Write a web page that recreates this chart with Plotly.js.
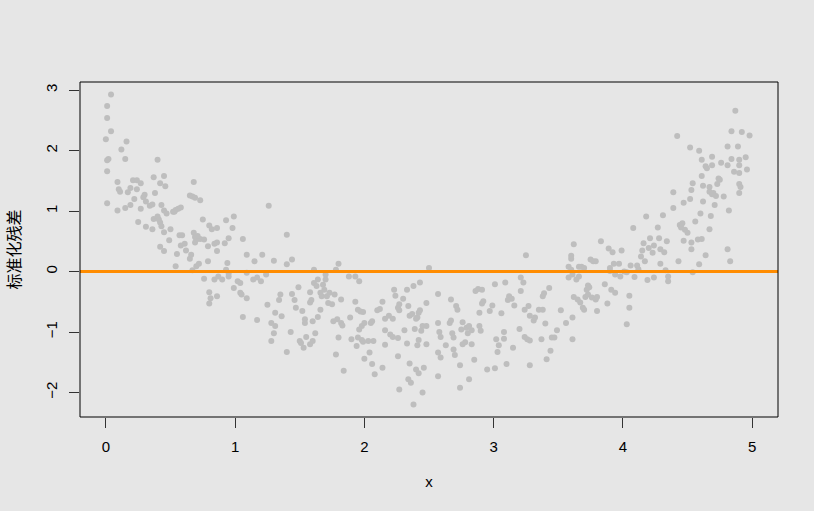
<!DOCTYPE html>
<html>
<head>
<meta charset="utf-8">
<script src="https://cdn.plot.ly/plotly-3.0.1.min.js"></script>
<style>
  html, body { margin: 0; padding: 0; background: #e6e6e6; }
  #chart { width: 814px; height: 511px; }
</style>
</head>
<body>
<div id="chart"></div>
<script>
// Predictor values, grouped in bands of x
const xVals = [
  // 0 - 0.5
  0.04,0.01,0.01,0.04,0.00,0.02,0.01,0.01,0.01,0.12,0.16,0.15,0.09,0.10,0.11,0.09,0.15,0.17,0.19,0.21,
  0.24,0.24,0.22,0.19,0.27,0.25,0.27,0.30,0.31,0.34,0.31,0.37,0.40,0.38,0.37,0.40,0.36,0.43,0.45,0.46,
  0.43,0.45,0.47,0.42,0.45,0.42,0.45,0.49,0.29,0.36,0.41,0.50,0.42,
  // 0.5 - 1.0
  0.52,0.54,0.56,0.58,0.53,0.57,0.59,0.58,0.61,0.55,0.54,0.62,0.65,0.66,0.65,0.67,0.68,0.69,0.73,0.68,
  0.69,0.70,0.73,0.71,0.76,0.69,0.75,0.67,0.70,0.72,0.76,0.80,0.82,0.86,0.79,0.79,0.84,0.86,0.86,0.80,
  0.81,0.80,0.86,0.84,0.87,0.90,0.93,0.99,0.98,0.95,0.92,0.94,0.93,0.95,0.95,0.99,
  // 1.0 - 1.5
  1.02,1.04,1.04,1.05,1.06,1.09,1.09,1.09,1.06,1.15,1.14,1.17,1.20,1.21,1.24,1.26,1.17,1.25,1.30,1.31,
  1.28,1.31,1.30,1.28,1.35,1.34,1.36,1.40,1.40,1.44,1.40,1.43,1.46,1.47,1.49,1.50,1.44,
  // 1.5 - 2.0
  1.51,1.53,1.55,1.58,1.60,1.62,1.54,1.54,1.60,1.64,1.52,1.58,1.59,1.58,1.61,1.63,1.64,1.61,1.66,1.67,
  1.69,1.68,1.70,1.70,1.71,1.72,1.75,1.73,1.66,1.76,1.79,1.82,1.83,1.78,1.80,1.84,1.77,1.82,1.78,1.80,
  1.88,1.89,1.90,1.93,1.96,1.93,1.95,1.97,1.99,1.95,1.94,1.98,1.99,1.98,1.96,2.00,
  // 2.0 - 2.5
  2.00,2.03,2.04,2.06,2.08,2.05,2.06,2.07,2.10,2.12,2.14,2.16,2.14,2.16,2.16,2.19,2.20,2.22,2.23,2.24,
  2.26,2.27,2.27,2.26,2.27,2.30,2.31,2.33,2.34,2.35,2.35,2.34,2.36,2.38,2.37,2.38,2.39,2.41,2.42,2.43,
  2.40,2.42,2.41,2.43,2.44,2.45,2.45,2.46,2.48,2.48,2.48,2.50,2.22,2.40,2.33,2.42,2.26,
  // 2.5 - 3.0
  2.57,2.58,2.59,2.57,2.59,2.57,2.57,2.63,2.66,2.67,2.67,2.68,2.69,2.69,2.70,2.71,2.72,2.74,2.74,2.75,
  2.76,2.76,2.78,2.79,2.81,2.80,2.83,2.81,2.83,2.86,2.88,2.91,2.85,2.89,2.90,2.91,2.92,2.89,2.95,2.97,
  2.99,3.01,
  // 3.0 - 3.5
  3.01,3.02,3.03,3.04,3.06,3.08,3.08,3.09,3.10,3.12,3.14,3.11,3.15,3.16,3.20,3.21,3.23,3.21,3.24,3.24,
  3.26,3.25,3.27,3.28,3.28,3.28,3.31,3.32,3.35,3.38,3.37,3.38,3.39,3.40,3.41,3.43,3.44,3.45,3.47,3.49,
  3.52,
  // 3.5 - 4.0
  3.56,3.58,3.60,3.60,3.62,3.58,3.60,3.61,3.61,3.61,3.62,3.64,3.66,3.66,3.68,3.70,3.67,3.65,3.69,3.70,
  3.71,3.73,3.72,3.73,3.74,3.75,3.77,3.79,3.76,3.79,3.80,3.80,3.83,3.86,3.88,3.89,3.90,3.90,3.92,3.93,
  3.94,3.91,3.94,3.97,3.98,3.99,4.01,
  // 4.0 - 4.5
  4.03,4.03,4.05,4.05,4.06,4.08,4.09,4.11,4.12,4.14,4.15,4.16,4.17,4.18,4.19,4.20,4.21,4.23,4.24,4.24,
  4.27,4.28,4.29,4.29,4.31,4.32,4.33,4.34,4.35,4.35,4.39,4.39,4.42,4.43,4.44,4.45,4.46,4.47,4.48,4.50,
  4.47,
  // 4.5 - 5.0
  4.52,4.52,4.53,4.54,4.53,4.53,4.54,4.56,4.58,4.59,4.59,4.60,4.61,4.61,4.61,4.62,4.62,4.64,4.65,4.64,
  4.67,4.67,4.67,4.69,4.69,4.70,4.71,4.72,4.73,4.74,4.75,4.76,4.78,4.81,4.81,4.82,4.81,4.83,4.84,4.84,
  4.86,4.87,4.89,4.90,4.90,4.90,4.91,4.90,4.92,4.95,4.96,4.98,4.90,4.69,4.68
];

// Standardized residuals, same order as xVals
const stdResid = [
  // 0 - 0.5
  2.93,2.74,2.54,2.32,2.19,1.86,1.84,1.66,1.13,2.02,2.15,1.86,1.48,1.36,1.32,1.01,1.05,1.31,1.38,1.51,
  1.51,1.36,1.20,1.10,1.04,0.82,1.46,1.27,1.16,1.09,0.74,1.56,1.85,1.30,0.87,0.91,0.70,0.75,1.58,1.41,
  1.10,1.01,0.96,0.81,0.65,0.41,0.34,0.52,1.23,1.11,0.86,0.70,1.46,
  // 0.5 - 1.0
  0.99,1.02,1.04,1.06,0.99,0.60,0.60,0.43,0.46,0.29,0.09,0.35,0.21,0.28,1.26,1.24,1.48,1.22,1.18,0.64,
  0.57,0.53,0.54,0.59,0.53,0.48,0.86,0.02,0.09,0.13,-0.12,0.76,0.70,0.72,0.17,0.42,0.46,0.48,0.34,-0.34,
  -0.44,-0.53,-0.41,-0.13,-0.08,-0.13,0.85,0.91,0.72,0.55,0.47,0.14,0.03,-0.03,-0.08,-0.27,
  // 1.0 - 1.5
  -0.16,-0.19,-0.35,-0.38,0.54,0.28,-0.02,-0.44,-0.75,0.17,-0.13,-0.10,-0.16,0.28,-0.05,1.09,-0.80,-0.55,0.18,-0.68,
  -0.85,-0.90,-1.02,-1.15,-0.38,-0.47,-0.74,0.61,0.12,0.20,-1.33,-1.00,-0.47,-0.60,-0.26,-1.15,-0.37,
  // 1.5 - 2.0
  -1.18,-1.26,-1.08,-1.20,-1.15,-1.02,-0.79,-0.85,-0.82,-0.75,-0.65,-0.51,-0.47,-0.34,-0.19,-0.24,-0.13,0.03,-0.35,-0.41,
  -0.30,-0.22,-0.13,-0.05,-0.41,-0.52,-0.54,-0.35,-0.63,-0.82,-0.79,-0.85,-0.89,-1.37,-1.09,-1.64,-0.38,-0.46,0.03,0.13,
  -0.08,-0.76,-1.12,-0.08,-0.16,-0.50,-0.63,-0.66,-0.67,-1.09,-1.23,-1.13,-1.16,-0.90,-0.96,-1.44,
  // 2.0 - 2.5
  -0.85,-1.15,-1.34,-1.53,-1.70,-0.85,-0.82,-1.15,-0.64,-0.62,-0.50,-0.78,-1.59,-0.97,-1.21,-0.73,-1.04,-1.08,-0.30,-0.40,
  -0.60,-0.64,-0.54,-1.40,-1.95,-0.45,-0.97,-0.30,-0.57,-0.73,-1.52,-1.78,-1.84,-2.20,-0.70,-0.24,-0.95,-0.76,-0.68,-0.18,
  -1.62,-1.68,-1.22,-0.64,-0.98,-0.90,-2.00,-1.59,-1.20,-0.90,-0.52,0.06,-0.78,-0.78,-1.19,-1.13,-1.10,
  // 2.5 - 3.0
  -0.85,-1.00,-1.08,-1.34,-1.42,-1.73,-0.37,-1.22,-0.85,-0.81,-0.46,-1.02,-1.09,-1.29,-1.38,-0.57,-0.63,-1.55,-1.92,-0.96,
  -0.84,-1.20,-1.17,-0.93,-0.90,-1.02,-0.97,-1.78,-1.20,-0.32,-0.29,-0.30,-1.46,-0.90,-0.98,-0.53,-0.49,-0.68,-1.62,-0.65,
  -0.56,-0.21,
  // 3.0 - 3.5
  -1.60,-1.12,-1.33,-1.22,-0.69,-1.00,-1.11,-0.18,-1.53,-0.41,-0.45,-0.47,-1.26,-0.56,-0.95,-0.10,-0.18,-0.32,-0.63,-1.08,
  -1.12,0.27,-0.57,-0.73,-1.14,-1.55,-0.81,-0.76,-0.63,-0.63,-1.12,-0.41,-0.36,-0.86,-1.45,-0.27,-1.31,-1.09,-1.09,-0.97,
  -0.64,
  // 3.5 - 4.0
  -0.85,-0.10,0.21,0.26,0.45,0.08,0.03,-0.05,-0.76,-1.12,-0.42,-0.13,-0.08,0.08,0.08,0.06,-0.51,-0.46,-0.60,-0.63,
  -0.42,-0.38,-0.30,-0.23,-0.26,0.20,0.17,0.17,-0.43,-0.46,-0.42,-0.65,0.50,-0.21,-0.53,0.38,0.01,0.06,0.32,0.13,
  -0.05,-0.30,-0.35,0.13,-0.08,0.35,0.00,
  // 4.0 - 4.5
  -0.01,-0.87,-0.40,-0.60,0.10,0.72,-0.09,0.10,0.04,0.25,0.35,0.47,0.17,0.91,-0.14,0.39,0.55,0.31,0.43,-0.10,
  0.73,0.55,0.37,0.13,0.93,0.32,0.02,0.50,-0.08,-0.16,1.31,1.05,2.24,0.17,0.77,0.73,0.80,1.14,0.69,0.64,
  0.51,
  // 4.5 - 5.0
  2.05,1.20,1.35,1.46,0.48,0.37,-0.01,0.83,0.53,2.00,0.12,0.96,0.54,1.85,1.58,1.42,1.16,1.74,1.71,0.27,
  1.32,1.40,0.70,1.90,1.76,1.30,1.10,1.25,1.45,1.54,1.52,1.80,1.24,2.07,1.76,1.01,0.37,0.17,1.86,2.32,
  1.65,2.66,2.07,1.85,1.63,1.45,1.40,1.30,2.31,1.89,1.69,2.25,1.76,1.28,0.92
];

const xTicks = [0, 1, 2, 3, 4, 5];
const yTicks = [-2, -1, 0, 1, 2, 3];
const refLevel = 0;

const xName = 'x';
const yName = '标准化残差';

const tickFont = { family: 'Liberation Sans, Arial, sans-serif', size: 15, color: '#000' };

const trace = {
  type: 'scatter',
  mode: 'markers',
  x: xVals,
  y: stdResid,
  marker: { color: '#bebebe', size: 6, line: { width: 0 } },
  hoverinfo: 'x+y'
};

const layout = {
  width: 814,
  height: 511,
  paper_bgcolor: '#e6e6e6',
  plot_bgcolor: '#e6e6e6',
  margin: { l: 80, r: 36, t: 82, b: 94 },
  showlegend: false,
  xaxis: {
    range: [-0.2, 5.2],
    tickvals: xTicks,
    ticktext: xTicks.map(String),
    ticks: 'outside',
    ticklen: 10,
    tickwidth: 1,
    tickcolor: '#333',
    showgrid: false,
    zeroline: false,
    showline: false,
    tickfont: tickFont,
    ticklabelstandoff: 6,
    title: { text: xName, font: { family: 'Liberation Sans, Arial, sans-serif', size: 15, color: '#000' }, standoff: 22 }
  },
  yaxis: {
    range: [-2.405, 3.135],
    tickvals: yTicks,
    ticktext: yTicks.map(v => v < 0 ? '\u2212' + Math.abs(v) : String(v)),
    ticks: 'outside',
    ticklen: 10,
    tickwidth: 1,
    tickcolor: '#333',
    tickangle: -90,
    showgrid: false,
    zeroline: false,
    showline: false,
    tickfont: tickFont,
    ticklabelstandoff: 6,
    title: { text: yName, font: { family: 'Noto Sans CJK SC, sans-serif', size: 16, color: '#000' }, standoff: 18 }
  },
  shapes: [
    {
      type: 'line', xref: 'paper', x0: 0, x1: 1, yref: 'y', y0: refLevel, y1: refLevel,
      line: { color: '#ff8c00', width: 3 }
    },
    {
      type: 'rect', xref: 'paper', yref: 'paper', x0: 0, x1: 1, y0: 0, y1: 1,
      line: { color: '#000', width: 1 }, fillcolor: 'rgba(0,0,0,0)'
    }
  ]
};

Plotly.newPlot('chart', [trace], layout, { displayModeBar: false, staticPlot: true });
</script>
</body>
</html>
